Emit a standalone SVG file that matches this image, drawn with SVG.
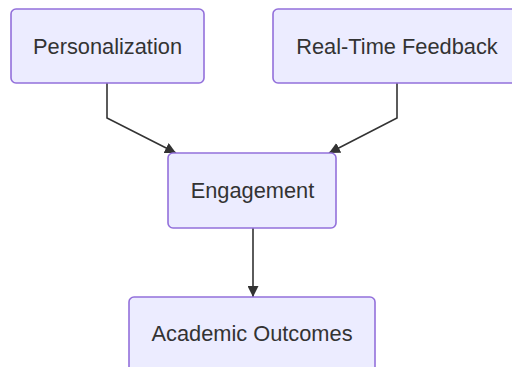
<svg xmlns="http://www.w3.org/2000/svg" width="512" height="367" viewBox="0 0 512 367">
  <style>
    .node rect { fill: #ECECFF; stroke: #9370DB; stroke-width: 1.6; }
    .node text { font-family: "Liberation Sans", Arial, sans-serif; font-size: 21.8px; fill: #333333; text-anchor: middle; }
    .edge { fill: none; stroke: #333333; stroke-width: 1.6; }
  </style>
  <defs>
    <marker id="arrow" viewBox="0 0 10 10" refX="10" refY="5" markerWidth="11" markerHeight="11" markerUnits="userSpaceOnUse" orient="auto">
      <path d="M0,0 L10,5 L0,10 z" fill="#333333"/>
    </marker>
  </defs>
  <rect width="512" height="367" fill="#ffffff"/>

  <g id="connectors">
    <path class="edge" d="M107,83 L107,118 L176,153" marker-end="url(#arrow)"/>
    <path class="edge" d="M397,83 L397,118 L329,153" marker-end="url(#arrow)"/>
    <path class="edge" d="M253,228 L253,297" marker-end="url(#arrow)"/>
  </g>

  <g id="personalization" class="node">
    <rect x="11" y="9" width="193" height="74" rx="5"/>
    <text x="107.5" y="54">Personalization</text>
  </g>
  <g id="real-time-feedback" class="node">
    <rect x="273" y="9" width="248" height="74" rx="5"/>
    <text x="397" y="54">Real-Time Feedback</text>
  </g>
  <g id="engagement" class="node">
    <rect x="168" y="153" width="168" height="75" rx="5"/>
    <text x="252.5" y="198">Engagement</text>
  </g>
  <g id="academic-outcomes" class="node">
    <rect x="129" y="297" width="246" height="75" rx="5"/>
    <text x="252" y="341">Academic Outcomes</text>
  </g>
</svg>
